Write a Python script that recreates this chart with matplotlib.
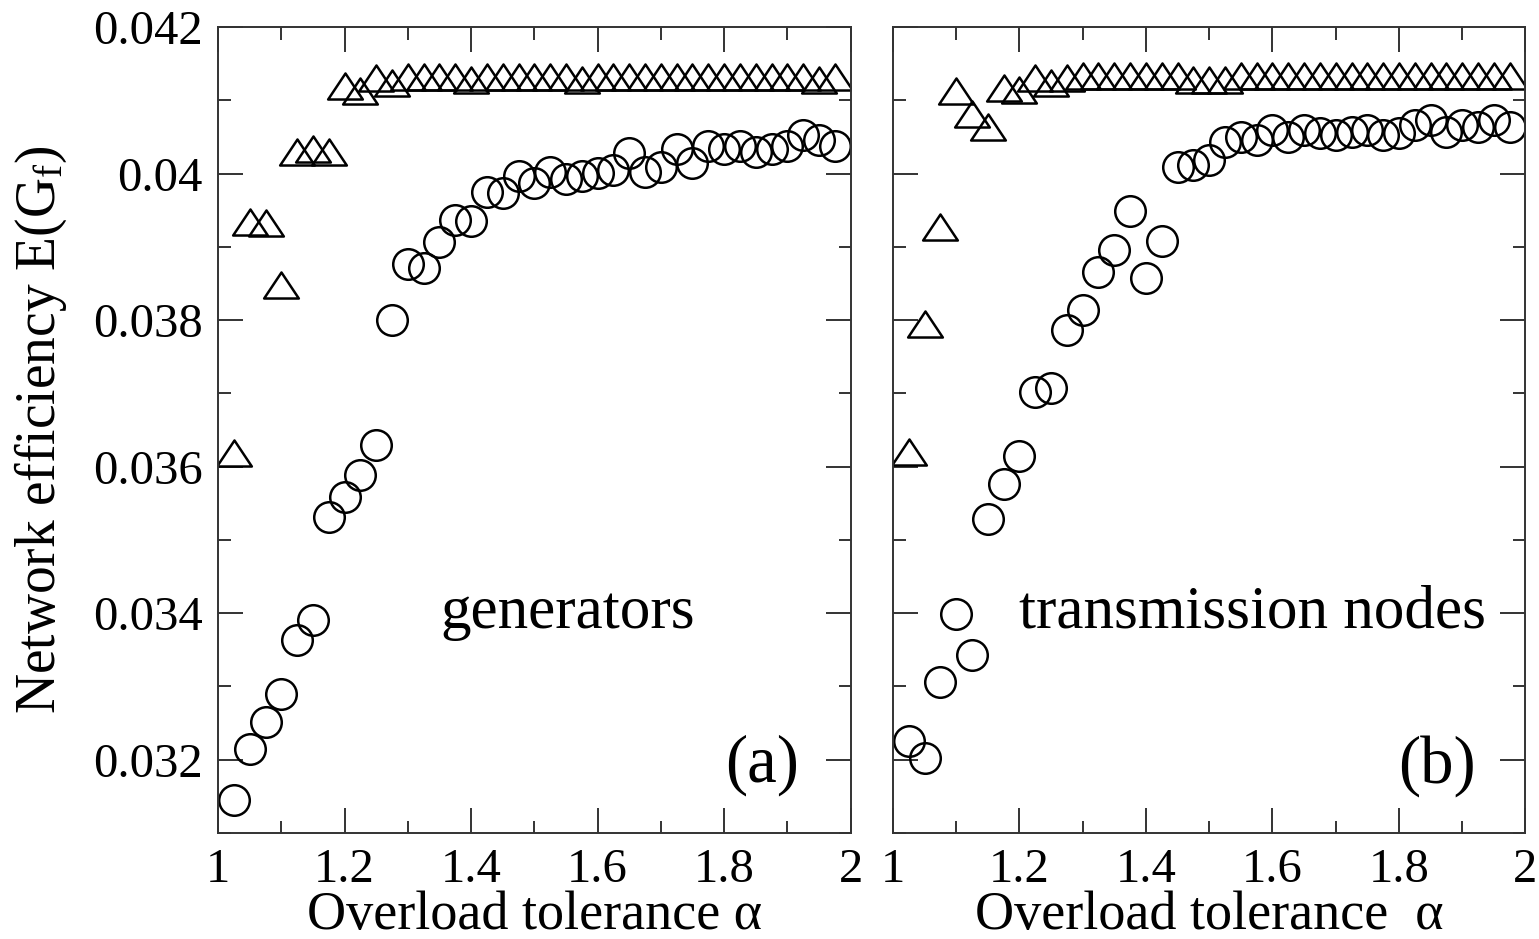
import matplotlib
matplotlib.use("Agg")
import matplotlib.pyplot as plt
from matplotlib.path import Path
from matplotlib.ticker import MultipleLocator

plt.rcParams["font.family"] = ["Liberation Serif", "DejaVu Serif"]
plt.rcParams["mathtext.fontset"] = "custom"
plt.rcParams["mathtext.rm"] = "Liberation Serif"
plt.rcParams["mathtext.it"] = "Liberation Serif:italic"

# --- overload tolerance alpha (shared x values)
alpha = [1.025, 1.05, 1.075, 1.1, 1.125, 1.15, 1.175, 1.2, 1.225, 1.25,
         1.275, 1.3, 1.325, 1.35, 1.375, 1.4, 1.425, 1.45, 1.475, 1.5,
         1.525, 1.55, 1.575, 1.6, 1.625, 1.65, 1.675, 1.7, 1.725, 1.75,
         1.775, 1.8, 1.825, 1.85, 1.875, 1.9, 1.925, 1.95, 1.975]

# --- (a) generators
gen_circles = [0.03145, 0.03214, 0.03252, 0.03289, 0.03363, 0.03390, 0.03531, 0.03559, 0.03588, 0.03629,
               0.03800, 0.03877, 0.03871, 0.03907, 0.03937, 0.03935, 0.03975, 0.03974, 0.03997, 0.03987,
               0.04002, 0.03992, 0.03996, 0.04001, 0.04005, 0.04028, 0.04002, 0.04009, 0.04034, 0.04014,
               0.04037, 0.04034, 0.04037, 0.04030, 0.04034, 0.04038, 0.04053, 0.04046, 0.04038]
gen_triangles = [0.03618, 0.03934, 0.03932, 0.03848, 0.04030, 0.04034, 0.04030, 0.04119, 0.04112, 0.04130,
                 0.04123, 0.04132, 0.04132, 0.04132, 0.04132, 0.04128, 0.04132, 0.04132, 0.04132, 0.04132,
                 0.04132, 0.04132, 0.04128, 0.04132, 0.04132, 0.04132, 0.04132, 0.04132, 0.04132, 0.04132,
                 0.04132, 0.04132, 0.04132, 0.04132, 0.04132, 0.04132, 0.04132, 0.04128, 0.04132]

# --- (b) transmission nodes
trn_circles = [0.03225, 0.03202, 0.03306, 0.03399, 0.03343, 0.03528, 0.03576, 0.03614, 0.03702, 0.03707,
               0.03786, 0.03814, 0.03866, 0.03896, 0.03949, 0.03858, 0.03908, 0.04009, 0.04012, 0.04018,
               0.04043, 0.04050, 0.04046, 0.04059, 0.04050, 0.04059, 0.04055, 0.04053, 0.04056, 0.04059,
               0.04053, 0.04055, 0.04066, 0.04073, 0.04057, 0.04066, 0.04064, 0.04073, 0.04064]
trn_triangles = [0.03620, 0.03795, 0.03927, 0.04113, 0.04081, 0.04064, 0.04117, 0.04114, 0.04130, 0.04124,
                 0.04130, 0.04133, 0.04133, 0.04133, 0.04133, 0.04133, 0.04133, 0.04133, 0.04127, 0.04127,
                 0.04128, 0.04133, 0.04133, 0.04133, 0.04133, 0.04133, 0.04133, 0.04133, 0.04133, 0.04133,
                 0.04133, 0.04133, 0.04133, 0.04133, 0.04133, 0.04133, 0.04133, 0.04133, 0.04133]

panels = [
    (gen_circles, gen_triangles, "generators", "(a)", "Overload tolerance \u03b1"),
    (trn_circles, trn_triangles, "transmission nodes", "(b)", "Overload tolerance  \u03b1"),
]

# flatter open triangle, like the xmgrace one
tri = Path([(-1.0, -0.75), (1.0, -0.75), (0.0, 0.75), (-1.0, -0.75)], closed=True)

fig = plt.figure(figsize=(15.39, 9.39), dpi=100)
lefts = [0.1417, 0.5802]
frame_col = "#333333"

for i, (circ, trig, name, tag, xlab) in enumerate(panels):
    ax = fig.add_axes([lefts[i], 0.1129, 0.411, 0.8584])
    ax.plot(alpha, trig, linestyle="none", marker=tri, markersize=25,
            markerfacecolor="none", markeredgecolor="black", markeredgewidth=1.8)
    ax.plot(alpha, circ, linestyle="none", marker="o", markersize=22,
            markerfacecolor="none", markeredgecolor="black", markeredgewidth=1.8)

    ax.set_xlim(1, 2)
    ax.set_ylim(0.031, 0.042)
    ax.xaxis.set_minor_locator(MultipleLocator(0.1))
    ax.yaxis.set_minor_locator(MultipleLocator(0.001))
    ax.set_xticks([1, 1.2, 1.4, 1.6, 1.8, 2])
    ax.set_xticklabels(["1", "1.2", "1.4", "1.6", "1.8", "2"])
    ax.set_yticks([0.032, 0.034, 0.036, 0.038, 0.040, 0.042])
    ax.tick_params(which="both", direction="in", top=True, right=True,
                   color=frame_col, width=1.4, labelsize=35)
    ax.tick_params(which="major", length=18, pad=11)
    ax.tick_params(which="minor", length=9)
    for sp in ax.spines.values():
        sp.set_color(frame_col)
        sp.set_linewidth(1.4)

    if i == 0:
        ax.set_yticklabels(["0.032", "0.034", "0.036", "0.038", "0.04", "0.042"])
        ax.set_ylabel("Network efficiency E(G$_\\mathrm{f}$)", fontsize=40)
        ax.yaxis.set_label_coords(-0.235, 0.5)
    else:
        ax.set_yticklabels([])

    ax.set_xlabel(xlab, fontsize=39, labelpad=-1)
    ax.text(1.553 if i == 0 else 1.568, 0.0340, name, fontsize=44, ha="center", va="center")
    ax.text(1.86, 0.03192, tag, fontsize=48, ha="center", va="center")

fig.savefig("out.png", dpi=100)
